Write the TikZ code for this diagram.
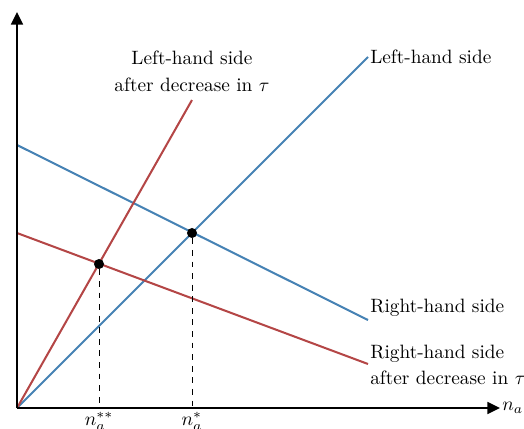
\documentclass[tikz,border=0pt]{standalone}
\usetikzlibrary{arrows.meta}
\definecolor{lblue}{RGB}{70,130,180}
\definecolor{lred}{RGB}{180,70,70}
\begin{document}
\begin{tikzpicture}[x=0.518pt,y=-0.518pt,
  axis/.style={line width=1.3pt,-{Triangle[length=6.5pt,width=6pt]}},
  curve/.style={line width=1.05pt},
  guide/.style={dashed,line width=0.5pt},
  dot/.style={circle,fill=black,inner sep=0pt,minimum size=5.2pt},
  lbl/.style={inner sep=1pt,align=left,font=\fontsize{10}{13.8}\selectfont}]
\useasboundingbox (0,0) rectangle (524,428);
\coordinate (O) at (17,408);
\coordinate (ytop) at (17,12);
\coordinate (xend) at (500,408);
\coordinate (lhsB) at (368,57);
\coordinate (lhsR) at (192,100);
\coordinate (rhsB0) at (17,145);
\coordinate (rhsB1) at (368,320);
\coordinate (rhsR0) at (17,233);
\coordinate (rhsR1) at (368,364);
\coordinate (ta) at (192,408);
\coordinate (tb) at (99,408);
% curves
\draw[curve,lblue] (O) -- (lhsB);
\draw[curve,lblue] (rhsB0) -- (rhsB1);
\draw[curve,lred] (O) -- (lhsR);
\draw[curve,lred] (rhsR0) -- (rhsR1);
% equilibria
\node[dot] (e1) at (192,233) {};
\node[dot] (e2) at (99,264) {};
\draw[guide] (e1) -- (ta);
\draw[guide] (e2) -- (tb);
% axes
\draw[axis] (O) -- (ytop);
\draw[axis] (O) -- (xend);
% labels
\node[lbl,anchor=west] (l1) at (lhsB) {Left-hand side};
\node[lbl,anchor=south,align=center] (l2) at (192,94) {Left-hand side\\after decrease in $\tau$};
\node[lbl,anchor=west] (l3) at (368,308) {Right-hand side};
\node[lbl,anchor=west] (l4) at (368,365) {Right-hand side\\after decrease in $\tau$};
\node[anchor=west,inner sep=1pt] (xl) at (xend) {$n_a$};
\node[anchor=north,inner sep=2pt] (na1) at (ta) {$n_a^{*}$};
\node[anchor=north,inner sep=2pt] (na2) at (tb) {$n_a^{**}$};
\end{tikzpicture}
\end{document}
